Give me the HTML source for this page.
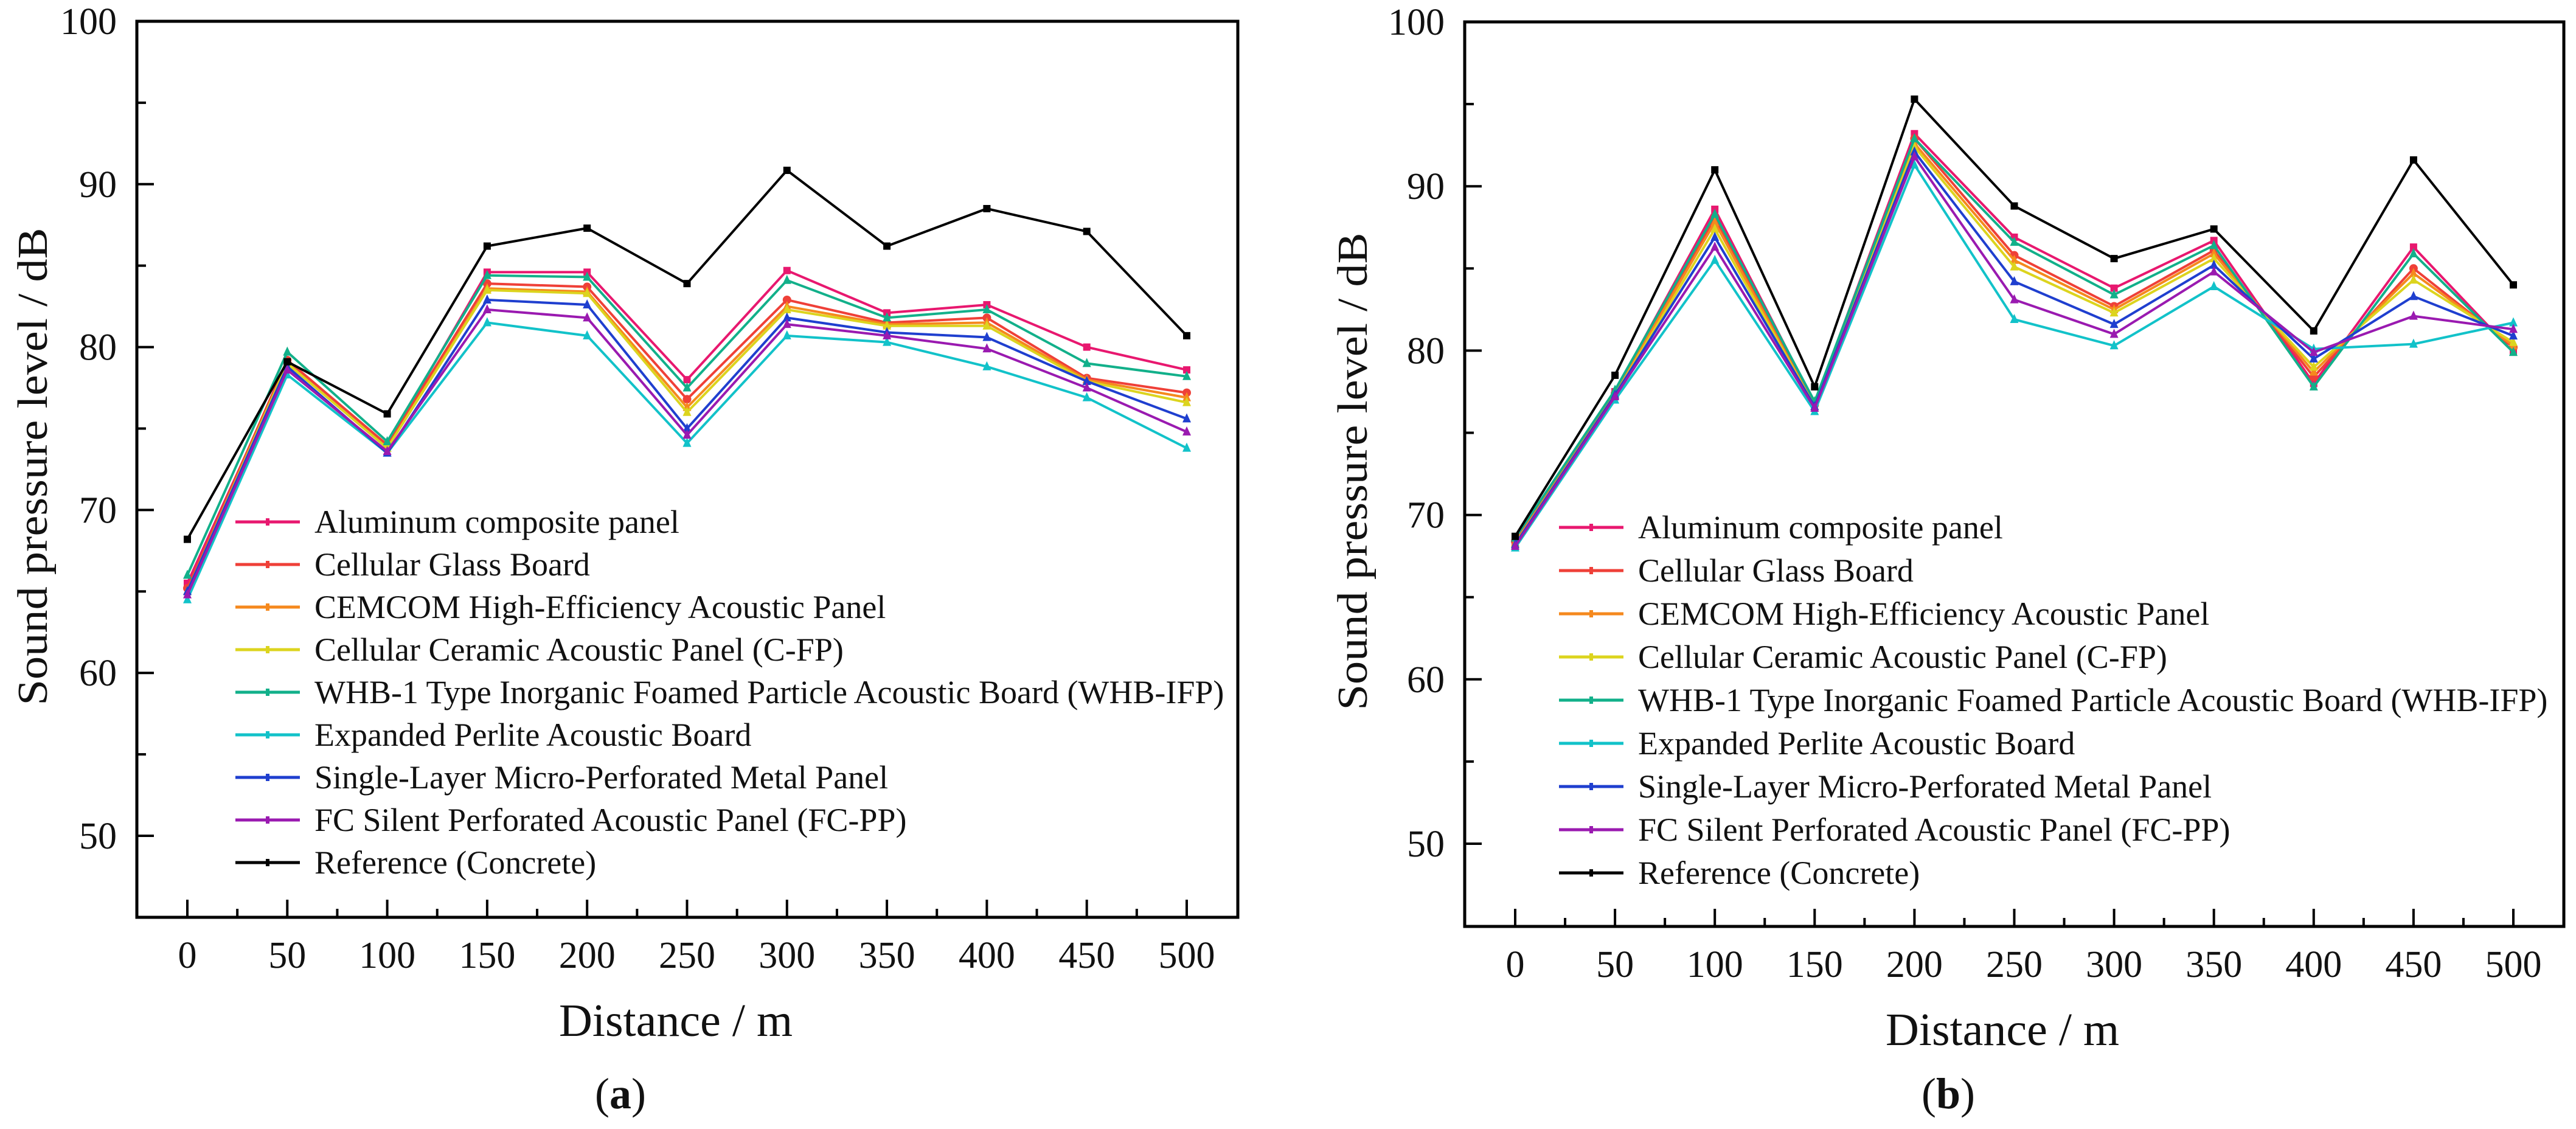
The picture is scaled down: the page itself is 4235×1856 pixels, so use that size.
<!DOCTYPE html>
<html><head><meta charset="utf-8"><style>
html,body{margin:0;padding:0;background:#fff;}
svg{display:block;font-family:"Liberation Serif",serif;}
</style></head><body>
<svg id="fig" width="4235" height="1856" viewBox="0 0 4235 1856" xmlns="http://www.w3.org/2000/svg"></svg>
<script>
const distances = [0,50,100,150,200,250,300,350,400,450,500];
const xTickLabels = ["0","50","100","150","200","250","300","350","400","450","500"];
const yTickLabels = ["50","60","70","80","90","100"];
const seriesNames = ["Aluminum composite panel","Cellular Glass Board","CEMCOM High-Efficiency Acoustic Panel","Cellular Ceramic Acoustic Panel (C-FP)","WHB-1 Type Inorganic Foamed Particle Acoustic Board (WHB-IFP)","Expanded Perlite Acoustic Board","Single-Layer Micro-Perforated Metal Panel","FC Silent Perforated Acoustic Panel (FC-PP)","Reference (Concrete)"];
// Chart (a)
const aAluminum = [65.5,79.0,74.0,84.6,84.6,78.0,84.7,82.1,82.6,80.0,78.6];
const aGlass    = [65.2,79.2,74.0,83.9,83.7,76.8,82.9,81.5,81.8,78.1,77.2];
const aCemcom   = [65.0,79.0,73.8,83.6,83.4,76.3,82.5,81.4,81.5,78.0,76.9];
const aCfp      = [65.0,79.0,73.8,83.5,83.3,76.0,82.3,81.3,81.3,77.9,76.6];
const aWhb      = [66.0,79.7,74.2,84.4,84.3,77.5,84.1,81.8,82.3,79.0,78.2];
const aPerlite  = [64.5,78.3,73.5,81.5,80.7,74.1,80.7,80.3,78.8,76.9,73.8];
const aMetal    = [65.0,78.8,73.5,82.9,82.6,75.0,81.8,80.9,80.6,77.9,75.6];
const aFcpp     = [64.8,78.6,73.6,82.3,81.8,74.6,81.4,80.7,79.9,77.5,74.8];
const aRef      = [68.2,79.1,75.9,86.2,87.3,83.9,90.85,86.2,88.5,87.1,80.7];
// Chart (b)
const bAluminum = [68.3,77.5,88.6,76.8,93.2,86.9,83.8,86.7,78.0,86.3,79.9];
const bGlass    = [68.4,77.4,88.1,76.7,92.9,85.8,82.7,86.1,78.4,85.0,80.2];
const bCemcom   = [68.3,77.4,87.8,76.6,92.6,85.5,82.5,85.9,78.7,84.7,80.3];
const bCfp      = [68.2,77.3,87.4,76.6,92.4,85.1,82.3,85.6,79.0,84.3,80.5];
const bWhb      = [68.6,77.6,88.3,76.9,92.9,86.6,83.4,86.4,77.8,85.9,79.9];
const bPerlite  = [68.0,77.0,85.5,76.3,91.3,81.9,80.3,83.9,80.1,80.4,81.7];
const bMetal    = [68.2,77.3,86.9,76.6,92.1,84.2,81.6,85.2,79.5,83.3,80.9];
const bFcpp     = [68.1,77.2,86.3,76.5,91.8,83.1,81.0,84.8,79.9,82.1,81.3];
const bRef      = [68.7,78.5,91.0,77.8,95.3,88.8,85.6,87.4,81.2,91.6,84.0];

const seriesA = [aAluminum,aGlass,aCemcom,aCfp,aWhb,aPerlite,aMetal,aFcpp,aRef];
const seriesB = [bAluminum,bGlass,bCemcom,bCfp,bWhb,bPerlite,bMetal,bFcpp,bRef];
const colors = ["#e8186f","#ef4038","#f5891e","#dcd41e","#12b08a","#12c2c9","#1f3fcf","#9a1ab0","#000000"];
const slugs = ["aluminum","cellular-glass","cemcom","c-fp","whb-ifp","perlite","metal-panel","fc-pp","reference"];

const NS="http://www.w3.org/2000/svg";
const svg=document.getElementById('fig');
function mk(tag,attrs,parent){const e=document.createElementNS(NS,tag);for(const k in attrs)e.setAttribute(k,attrs[k]);(parent||svg).appendChild(e);return e;}

function drawChart(cfg,series,tag){
  const g=mk('g',{});
  
  
  const xs=d=>cfg.x0+(d-0)/500*(cfg.x500-cfg.x0);
  const ys=v=>cfg.y100+(100-v)/50*(cfg.y50-cfg.y100);
  for(let v=50;v<=100;v+=5){
    const y=ys(v); const major=v%10===0;
    if(v===100) continue;
    const t=mk('line',{x1:cfg.L,x2:cfg.L+(major?28:15),y1:y,y2:y,stroke:'#000','stroke-width':4},g);
    
    
  }
  yTickLabels.forEach(s=>{
    const t=mk('text',{x:cfg.L-33,y:ys(+s)+21,'text-anchor':'end','font-size':62,fill:'#111'},g);
    t.textContent=s;
    
    
  });
  for(let d=0;d<=500;d+=25){
    const x=xs(d); const major=d%50===0;
    const t=mk('line',{x1:x,x2:x,y1:cfg.B,y2:cfg.B-(major?29:14),stroke:'#000','stroke-width':4},g);
    
    
  }
  xTickLabels.forEach((s,i)=>{
    const t=mk('text',{x:xs(distances[i]),y:cfg.B+83,'text-anchor':'middle','font-size':62,fill:'#111'},g);
    t.textContent=s;
    
    
  });
  series.forEach((vals,si)=>{
    const pts=vals.map((v,i)=>xs(distances[i]).toFixed(1)+','+ys(v).toFixed(1)).join(' ');
    const pl=mk('polyline',{points:pts,fill:'none',stroke:colors[si],'stroke-width':4,'stroke-linejoin':'miter'},g);
    
    
    vals.forEach((v,i)=>{
      const cx=xs(distances[i]),cy=ys(v);
      let m;
      if(si===0||si===8){m=mk('rect',{x:cx-6,y:cy-6,width:12,height:12,fill:colors[si]},g);}
      else if(si===1){m=mk('circle',{cx:cx,cy:cy,r:7,fill:colors[si]},g);}
      else {m=mk('polygon',{points:`${cx},${cy-9} ${cx-7},${cy+6} ${cx+7},${cy+6}`,fill:colors[si]},g);}
      
      
    });
  });
  const fr=mk('rect',{x:cfg.L,y:cfg.T,width:cfg.R-cfg.L,height:cfg.B-cfg.T,fill:'none',stroke:'#000','stroke-width':5},g);
  
  
  seriesNames.forEach((n,i)=>{
    const y=cfg.legY+i*cfg.legStep;
    const ln=mk('line',{x1:cfg.legX,x2:cfg.legX+106,y1:y,y2:y,stroke:colors[i],'stroke-width':5},g);
    
    
    const mkr=mk('rect',{x:cfg.legX+50,y:y-6,width:6,height:12,fill:colors[i]},g);
    
    
    const t=mk('text',{x:cfg.legX+130,y:y+18,'font-size':54,fill:'#111'},g);
    t.textContent=n;
    
    
  });
  const yt=mk('text',{x:0,y:0,'text-anchor':'middle','font-size':70,fill:'#111',textLength:785,lengthAdjust:'spacingAndGlyphs',transform:`translate(${cfg.yLabX},${cfg.yLabY}) rotate(-90)`},g);
  yt.textContent='Sound pressure level / dB';
  
  
  const xt=mk('text',{x:cfg.xLabX,y:cfg.B+195,'text-anchor':'middle','font-size':76,fill:'#111'},g);
  xt.textContent='Distance / m';
  
  
  const pl=mk('text',{x:cfg.panX,y:1822,'text-anchor':'middle','font-size':72,fill:'#111'},g);
  pl.innerHTML='(<tspan font-weight="bold">'+tag+'</tspan>)';
  
  
}

drawChart({L:225,R:2035,T:35,B:1508,x0:308,x500:1951,y100:35,y50:1374,legX:387,legY:858,legStep:70,yLabX:77,yLabY:767,xLabX:1111,panX:1020},seriesA,'a');
drawChart({L:2408,R:4215,T:36,B:1523,x0:2491,x500:4132,y100:36,y50:1387,legX:2563,legY:867,legStep:71,yLabX:2247,yLabY:775,xLabX:3292,panX:3203},seriesB,'b');
</script>
</body></html>
